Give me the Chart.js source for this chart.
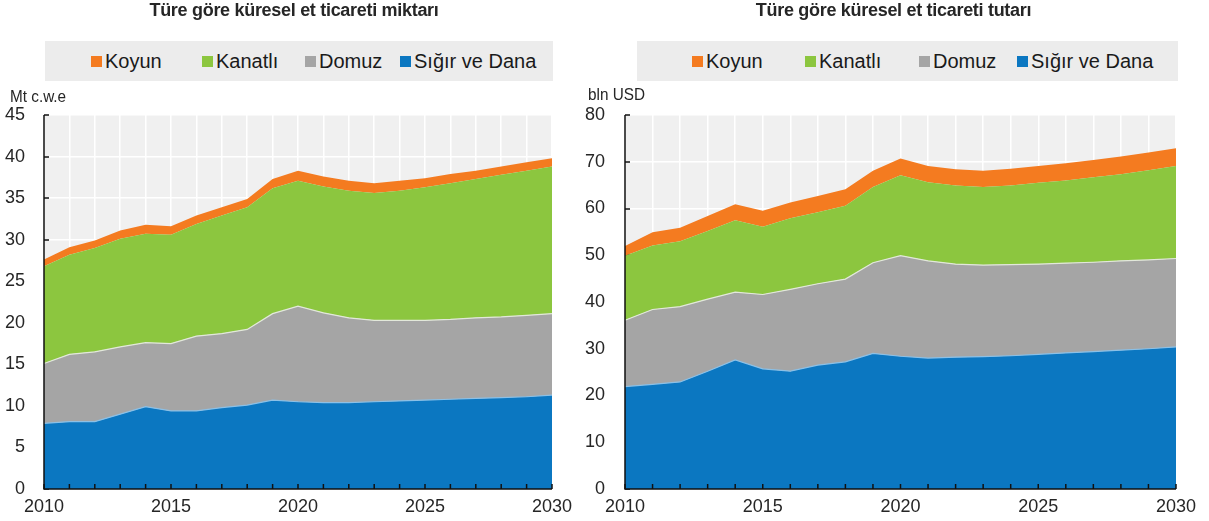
<!DOCTYPE html>
<html><head><meta charset="utf-8">
<script src="https://cdn.jsdelivr.net/npm/chart.js@4.4.1/dist/chart.umd.min.js"></script>
<style>
body{margin:0;width:1209px;height:521px;background:#fff;overflow:hidden;position:relative;}
.narrow{font-family:"Liberation Sans Narrow","Arial Narrow","Liberation Sans",Arial,sans-serif;}
.title{position:absolute;top:1px;height:18px;line-height:18px;font-weight:bold;font-size:18px;letter-spacing:-0.3px;color:#262626;text-align:center;}
.legend{position:absolute;top:41px;height:40px;background:#ececec;}
.item{position:absolute;top:0;height:40px;display:flex;align-items:center;font-family:"Liberation Sans",Arial,sans-serif;font-size:20px;color:#1a1a1a;white-space:nowrap;}
.sw{width:11px;height:11px;margin-right:3px;}
.unit{position:absolute;height:17px;line-height:17px;font-size:17px;color:#262626;transform:scaleX(0.9);transform-origin:0 0;}
.box{position:absolute;top:0;height:521px;}
</style></head>
<body>
<div class="box" style="left:0;width:600px"><canvas id="c1"></canvas></div>
<div class="box" style="left:580px;width:629px"><canvas id="c2"></canvas></div>
<div class="title narrow" style="left:40px;width:508px">Türe göre küresel et ticareti miktarı</div>
<div class="title narrow" style="left:618px;width:551px">Türe göre küresel et ticareti tutarı</div>
<div class="legend" id="lg1" style="left:45px;width:508px"></div>
<div class="legend" id="lg2" style="left:637px;width:541px"></div>
<div class="unit narrow" style="left:10px;top:88px">Mt c.w.e</div>
<div class="unit narrow" style="left:588px;top:86px">bln USD</div>
<script>
// ---- data ----
const years = [2010,2011,2012,2013,2014,2015,2016,2017,2018,2019,2020,2021,2022,2023,2024,2025,2026,2027,2028,2029,2030];
const seriesNames = ["Sığır ve Dana","Domuz","Kanatlı","Koyun"];
const seriesColors = ["#0b77c1","#a5a5a5","#8cc63f","#f47b20"];
const borderColors = ["#8cc0e6","#e2e8da","rgba(0,0,0,0)","rgba(0,0,0,0)"];

// Volume (Mt c.w.e)
const volBeef    = [7.9,8.1,8.1,9.0,9.9,9.4,9.4,9.8,10.1,10.7,10.5,10.4,10.4,10.5,10.6,10.7,10.8,10.9,11.0,11.1,11.3];
const volPig     = [7.2,8.1,8.4,8.1,7.7,8.1,9.0,8.9,9.1,10.4,11.5,10.8,10.2,9.8,9.7,9.6,9.6,9.7,9.7,9.8,9.8];
const volPoultry = [11.7,12.0,12.5,13.0,13.1,13.1,13.5,14.2,14.7,15.1,15.1,15.2,15.3,15.3,15.6,16.0,16.4,16.7,17.1,17.4,17.7];
const volSheep   = [0.8,0.9,0.9,1.0,1.1,1.0,1.0,1.0,1.0,1.1,1.2,1.2,1.2,1.2,1.2,1.1,1.1,1.0,1.0,1.0,1.0];

// Value (bln USD)
const valBeef    = [21.9,22.4,22.9,25.2,27.6,25.7,25.2,26.5,27.2,29.0,28.4,28.0,28.2,28.3,28.5,28.8,29.1,29.4,29.7,30.0,30.4];
const valPig     = [14.2,16.0,16.1,15.4,14.5,15.9,17.5,17.4,17.7,19.4,21.5,20.8,19.9,19.6,19.5,19.3,19.2,19.1,19.1,19.0,18.9];
const valPoultry = [13.8,13.7,14.0,14.6,15.4,14.5,15.2,15.3,15.7,16.2,17.2,16.8,16.8,16.7,16.9,17.4,17.7,18.2,18.5,19.2,19.8];
const valSheep   = [2.1,2.8,2.9,3.2,3.4,3.4,3.4,3.5,3.5,3.5,3.6,3.5,3.5,3.5,3.6,3.6,3.7,3.7,3.8,3.8,3.8];

const volMax = 45, volStep = 5;
const valMax = 80, valStep = 10;

// ---- legends (order: Koyun, Kanatlı, Domuz, Sığır ve Dana) ----
const legendOrder = [3,2,1,0];
function buildLegend(id, offsets){
  const el = document.getElementById(id);
  legendOrder.forEach((si,k)=>{
    const it = document.createElement('div');
    it.className='item';
    it.style.left = offsets[k]+'px';
    const sw = document.createElement('div');
    sw.className='sw'; sw.style.background = seriesColors[si];
    it.appendChild(sw);
    it.appendChild(document.createTextNode(seriesNames[si]));
    el.appendChild(it);
  });
}
buildLegend('lg1',[46,157,260,355]);
buildLegend('lg2',[55,168,282,380]);

// ---- plugins ----
const plotDeco = {
  id:'plotDeco',
  beforeDraw(chart){
    const {ctx, chartArea:a} = chart;
    ctx.save(); ctx.fillStyle='#f0f0f0';
    ctx.fillRect(a.left,a.top,a.right-a.left,a.bottom-a.top);
    ctx.restore();
  },
  beforeDatasetsDraw(chart){
    const {ctx, chartArea:a} = chart; const ys = chart.scales.y;
    ctx.save(); ctx.strokeStyle='#111'; ctx.lineWidth=1.5;
    ys.ticks.forEach(t=>{
      const y = Math.round(ys.getPixelForValue(t.value));
      ctx.beginPath(); ctx.moveTo(a.left,y); ctx.lineTo(a.left+5,y); ctx.stroke();
    });
    ctx.restore();
  },
  afterDatasetsDraw(chart){
    const {ctx, chartArea:a} = chart; const xs = chart.scales.x;
    ctx.save(); ctx.strokeStyle='#111'; ctx.lineWidth=1.5;
    ctx.beginPath(); ctx.moveTo(a.left,a.top); ctx.lineTo(a.left,a.bottom); ctx.lineTo(a.right,a.bottom); ctx.stroke();
    for(let i=0;i<years.length;i++){
      const x = xs.getPixelForValue(i);
      ctx.beginPath(); ctx.moveTo(x,a.bottom); ctx.lineTo(x,a.bottom-5); ctx.stroke();
    }
    ctx.restore();
  }
};

const tickFont = {family:'"Liberation Sans Narrow","Arial Narrow","Liberation Sans",Arial,sans-serif', size:18};

function makeChart(id, data, yMax, yStep, yWidth, padRight, labPad){
  const datasets = data.map((d,i)=>({
    label: seriesNames[i], data: d,
    backgroundColor: seriesColors[i], borderColor: borderColors[i],
    borderWidth: i<2 ? 1.2 : 0, pointRadius:0, tension:0,
    fill: i===0 ? 'origin' : '-1'
  }));
  return new Chart(document.getElementById(id), {
    type:'line',
    data:{labels: years.map(String), datasets},
    options:{
      responsive:true, maintainAspectRatio:false, animation:false,
      layout:{padding:{top:115,right:padRight,left:0,bottom:0}},
      plugins:{legend:{display:false}, tooltip:{enabled:false}},
      scales:{
        x:{
          offset:false,
          grid:{color:'#ffffff', lineWidth:1.5, drawTicks:false},
          border:{display:false},
          ticks:{autoSkip:false, maxRotation:0, padding:7, color:'#262626', font:tickFont,
                 callback:(v,i)=> years[i]%5===0 ? String(years[i]) : ''},
          afterFit(s){ s.height = 32; }
        },
        y:{
          stacked:true, min:0, max:yMax,
          grid:{color:'#ffffff', lineWidth:1.5, drawTicks:false},
          border:{display:false},
          ticks:{stepSize:yStep, padding:labPad, color:'#262626', font:tickFont},
          afterFit(s){ s.width = yWidth; }
        }
      }
    },
    plugins:[plotDeco]
  });
}

makeChart('c1',[volBeef,volPig,volPoultry,volSheep], volMax, volStep, 44, 48, 19);
makeChart('c2',[valBeef,valPig,valPoultry,valSheep], valMax, valStep, 45, 33, 20);
</script>
</body></html>
